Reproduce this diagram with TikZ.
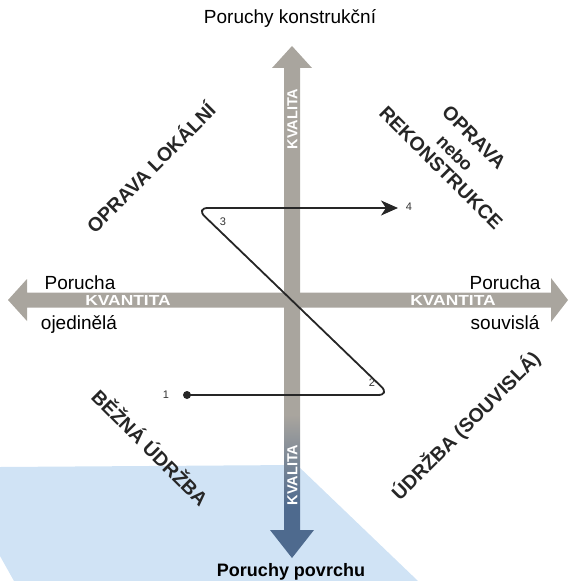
\documentclass[tikz,border=0pt]{standalone}
\usepackage{fontspec}
\setmainfont{Liberation Sans}
\usetikzlibrary{arrows.meta}
\definecolor{axisgray}{HTML}{A9A59E}
\definecolor{slate}{HTML}{4E6A8E}
\definecolor{bluebg}{HTML}{D0E3F5}
\definecolor{pathcol}{HTML}{262626}
\pgfdeclareverticalshading{kvalshade}{100bp}{color(0bp)=(slate); color(30bp)=(slate); color(39bp)=(axisgray); color(100bp)=(axisgray)}
\tikzset{
  lbl/.style={font=\fontsize{19bp}{22bp}\selectfont, text=black, inner sep=0pt},
  diag/.style={font=\bfseries\fontsize{19.5bp}{22bp}\selectfont, text=black!85, inner sep=0pt, align=center},
  axistxt/.style={font=\bfseries\fontsize{14.5bp}{16bp}\selectfont, text=white, inner sep=0pt},
  num/.style={font=\fontsize{11bp}{12bp}\selectfont, text=black!80, inner sep=0pt},
  pathline/.style={draw=pathcol, line width=1.8bp, rounded corners=12bp},
}
\begin{document}
\begin{tikzpicture}[x=1bp,y=-1bp]
\useasboundingbox (0,0) rectangle (570,581);
% light blue background
\fill[bluebg] (0,467) -- (297,465) -- (418,581) -- (14,581) -- (0,556) -- cycle;
% horizontal axis
\fill[axisgray] (8,300) -- (27,279) -- (27,292.5) -- (551,292.5) -- (551,278) -- (568,300) -- (551,322) -- (551,307.5) -- (27,307.5) -- (27,321) -- cycle;
% vertical axis
\shade[shading=kvalshade] (292,46) -- (312,68) -- (300,68) -- (300,530) -- (314,530) -- (292,558) -- (270,530) -- (284,530) -- (284,68) -- (272,68) -- cycle;
% axis labels
\node[axistxt, xscale=1.2] (kvl) at (128,300.5) {KVANTITA};
\node[axistxt, xscale=1.2] (kvr) at (453,300.5) {KVANTITA};
\node[axistxt, rotate=90] (kqt) at (292.5,119) {KVALITA};
\node[axistxt, rotate=90] (kqb) at (292.5,475) {KVALITA};
% end labels
\node[lbl] (top) at (290,18) {Poruchy konstrukční};
\node[lbl, font=\bfseries\fontsize{18bp}{22bp}\selectfont] (bot) at (291,572) {Poruchy povrchu};
\node[lbl, anchor=base] (lp) at (80,289) {Porucha};
\node[lbl, anchor=base] (lo) at (79,329) {ojedinělá};
\node[lbl, anchor=base] (rp) at (505,289) {Porucha};
\node[lbl, anchor=base] (rs) at (505,329) {souvislá};
% diagonal labels
\node[diag, rotate=45] (ol) at (150,167) {OPRAVA LOKÁLNÍ};
\node[diag, rotate=-45] (o1) at (474,137) {OPRAVA};
\node[diag, rotate=-45, font=\bfseries\fontsize{18bp}{22bp}\selectfont] (o2) at (455,153) {nebo};
\node[diag, rotate=-45] (o3) at (441,168) {REKONSTRUKCE};
\node[diag, rotate=-45] (bu) at (151,447) {BĚŽNÁ ÚDRŽBA};
\node[diag, rotate=45] (us) at (466,426) {ÚDRŽBA (SOUVISLÁ)};
% path
\node[circle, fill=pathcol, minimum size=8bp, inner sep=0pt] (p1) at (187,395) {};
\coordinate (c2) at (390,395);
\coordinate (c3) at (196,208);
\coordinate (p4) at (398,208);
\draw[pathline, -{Stealth[length=17bp,width=15bp,inset=5bp]}] (p1.center) -- (c2) -- (c3) -- (p4);
\node[num] (n1) at (166,395) {1};
\node[num] (n2) at (372,383) {2};
\node[num] (n3) at (223,222) {3};
\node[num] (n4) at (409,207) {4};
\end{tikzpicture}
\end{document}
